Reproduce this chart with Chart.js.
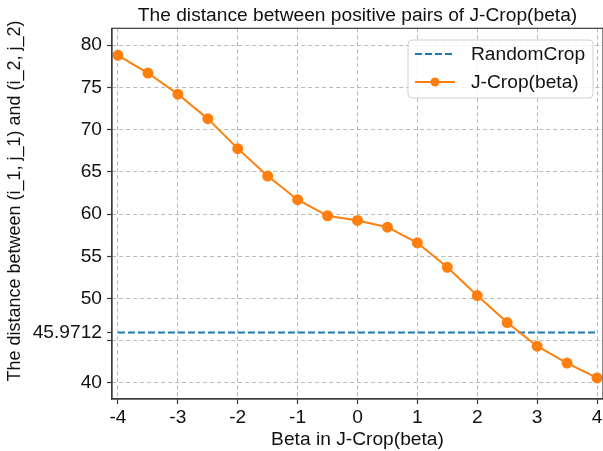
<!DOCTYPE html>
<html>
<head>
<meta charset="utf-8">
<script src="https://cdn.jsdelivr.net/npm/chart.js@4.4.1/dist/chart.umd.min.js"></script>
<style>
  html, body { margin: 0; padding: 0; background: #fff; }
  #wrap { width: 603px; height: 451px; position: relative; }
</style>
</head>
<body>
<div id="wrap"><canvas id="chart"></canvas></div>
<script>
// data
const betas = [-4, -3.5, -3, -2.5, -2, -1.5, -1, -0.5, 0, 0.5, 1, 1.5, 2, 2.5, 3, 3.5, 4];
const jcropDist = [78.8, 76.7, 74.2, 71.3, 67.75, 64.5, 61.7, 59.8, 59.25, 58.45, 56.6, 53.7, 50.35, 47.15, 44.35, 42.35, 40.6];
const randomCropDist = 45.9712;
const xTickValues = [-4, -3, -2, -1, 0, 1, 2, 3, 4];
const xTickLabels = ['-4', '-3', '-2', '-1', '0', '1', '2', '3', '4'];
const yTickValues = [40, 45, 45.9712, 50, 55, 60, 65, 70, 75, 80];
const yTickLabels = ['40', '', '45.9712', '50', '55', '60', '65', '70', '75', '80'];

const titleText = 'The distance between positive pairs of J-Crop(beta)';
const yTitleText = 'The distance between (i_1, j_1) and (i_2, j_2)';

const FONT = 'Liberation Sans, Arial, sans-serif';
const FS = 19.2;
const GRID = '#b8b8b8';
const SPINE = '#3a3a3a';

// frame on all four sides + title and y label (centred like matplotlib)
const framePlugin = {
    id: 'frame',
    afterDraw(chart) {
        const a = chart.chartArea;
        const ctx = chart.ctx;
        ctx.save();
        ctx.strokeStyle = SPINE;
        ctx.lineWidth = 1.2;
        ctx.strokeRect(a.left, a.top, a.right - a.left, a.bottom - a.top);

        ctx.fillStyle = '#111';
        ctx.font = FS + 'px ' + FONT;
        ctx.textAlign = 'center';
        ctx.textBaseline = 'alphabetic';
        ctx.fillText(titleText, (a.left + a.right) / 2, 20.7);

        ctx.font = '18px ' + FONT;
        ctx.textBaseline = 'middle';
        ctx.translate(15, 201);
        ctx.rotate(-Math.PI / 2);
        ctx.fillText(yTitleText, 0, 0);
        ctx.restore();
    }
};

// legend box drawn by hand (line + marker samples)
const legendPlugin = {
    id: 'boxLegend',
    afterDraw(chart) {
        const ctx = chart.ctx;
        const x0 = 408, y0 = 40, w = 185, h = 58;
        ctx.save();
        ctx.beginPath();
        ctx.roundRect(x0, y0, w, h, 4);
        ctx.fillStyle = 'rgba(255,255,255,0.8)';
        ctx.fill();
        ctx.strokeStyle = '#d0d0d0';
        ctx.lineWidth = 1;
        ctx.stroke();
        ctx.font = FS + 'px ' + FONT;
        ctx.textBaseline = 'middle';
        chart.data.datasets.forEach((ds, i) => {
            const y = 54 + i * 28;
            ctx.beginPath();
            ctx.strokeStyle = ds.borderColor;
            ctx.lineWidth = 2;
            ctx.setLineDash(ds.borderDash || []);
            ctx.moveTo(415, y);
            ctx.lineTo(455, y);
            ctx.stroke();
            ctx.setLineDash([]);
            if (ds.pointRadius > 0) {
                ctx.beginPath();
                ctx.fillStyle = ds.pointBackgroundColor;
                ctx.arc(435, y, ds.pointRadius, 0, Math.PI * 2);
                ctx.fill();
            }
            ctx.fillStyle = '#111';
            ctx.fillText(ds.label, 471, y + 1);
        });
        ctx.restore();
    }
};

const chart = new Chart(document.getElementById('chart'), {
    type: 'line',
    data: {
        datasets: [{
            label: 'RandomCrop',
            data: [{x: betas[0], y: randomCropDist}, {x: betas[betas.length - 1], y: randomCropDist}],
            borderColor: '#1f77b4',
            borderWidth: 2,
            borderDash: [7, 3],
            pointRadius: 0,
            order: 2
        }, {
            label: 'J-Crop(beta)',
            data: betas.map((b, i) => ({x: b, y: jcropDist[i]})),
            borderColor: '#ff7f0e',
            backgroundColor: '#ff7f0e',
            pointBackgroundColor: '#ff7f0e',
            pointBorderColor: '#ff7f0e',
            borderWidth: 2,
            pointRadius: 4.5,
            tension: 0,
            order: 1
        }]
    },
    options: {
        responsive: true,
        maintainAspectRatio: false,
        animation: false,
        layout: { autoPadding: false, padding: { left: 0, right: 0, top: 28.3, bottom: 0 } },
        plugins: {
            legend: { display: false },
            tooltip: { enabled: false },
            title: { display: false }
        },
        scales: {
            x: {
                type: 'linear',
                min: -4.1,
                max: 4.1,
                afterBuildTicks: s => { s.ticks = xTickValues.map(v => ({value: v})); },
                afterFit: s => { s.height = 52; s.paddingLeft = 0; s.paddingRight = 0; },
                ticks: {
                    color: '#111',
                    font: { family: FONT, size: FS },
                    padding: 2,
                    maxRotation: 0,
                    callback: (v, i) => xTickLabels[i]
                },
                grid: { color: GRID, lineWidth: 1, tickLength: 5, tickColor: SPINE, tickWidth: 1.2 },
                border: { display: true, color: SPINE, width: 1.2, dash: [4, 3] },
                title: {
                    display: true,
                    text: 'Beta in J-Crop(beta)',
                    color: '#111',
                    font: { family: FONT, size: FS },
                    padding: { top: 0, bottom: 0 }
                }
            },
            y: {
                type: 'linear',
                min: 38.1,
                max: 82.0,
                afterBuildTicks: s => { s.ticks = yTickValues.map(v => ({value: v})); },
                afterFit: s => { s.width = 112; s.paddingTop = 0; s.paddingBottom = 0; },
                ticks: {
                    color: '#111',
                    font: { family: FONT, size: FS },
                    padding: 5,
                    callback: (v, i) => yTickLabels[i]
                },
                grid: {
                    color: c => (c.tick && c.tick.value === randomCropDist) ? 'rgba(0,0,0,0)' : GRID,
                    lineWidth: 1, tickLength: 5, tickColor: SPINE, tickWidth: 1.2
                },
                border: { display: true, color: SPINE, width: 1.2, dash: [4, 3] }
            }
        }
    },
    plugins: [framePlugin, legendPlugin]
});
</script>
</body>
</html>
